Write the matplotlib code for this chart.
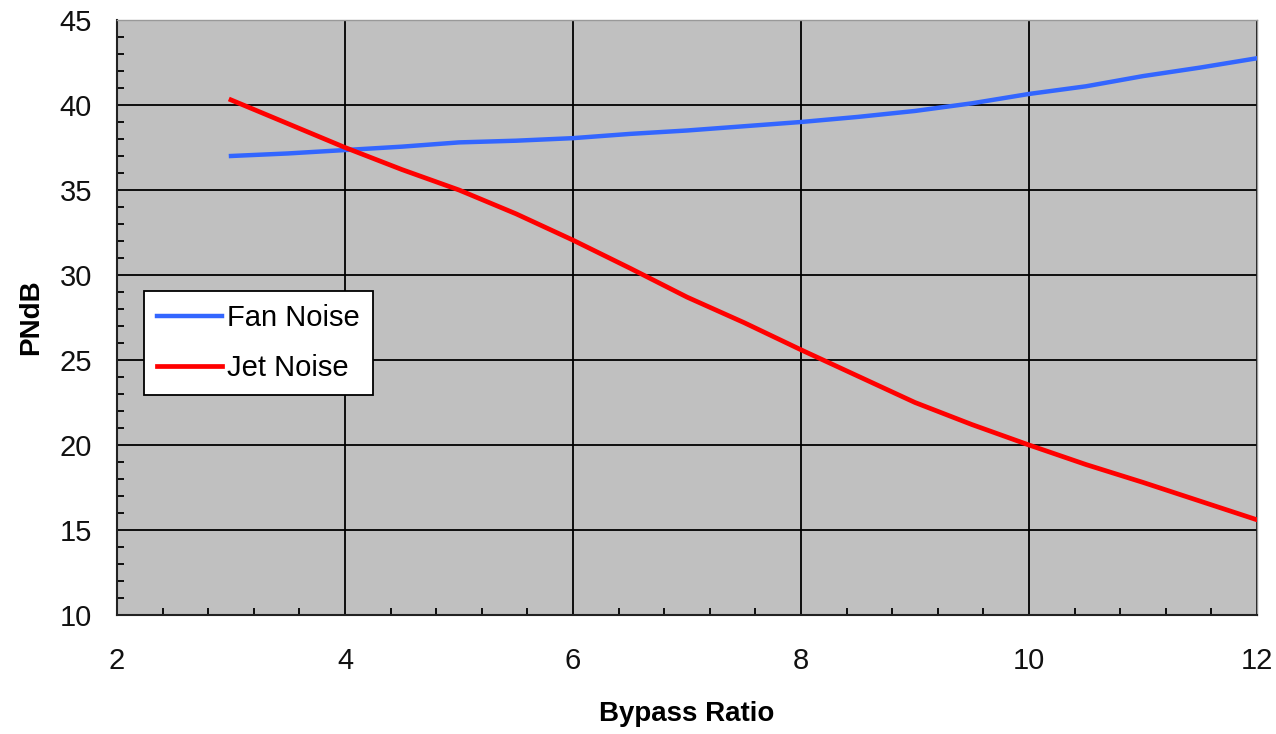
import matplotlib.pyplot as plt
from matplotlib.ticker import MultipleLocator

# Noise vs bypass ratio
bypass = [3, 3.5, 4, 4.5, 5, 5.5, 6, 6.5, 7, 7.5, 8, 8.5, 9, 9.5, 10, 10.5, 11, 11.5, 12]
fan_noise = [37.0, 37.15, 37.35, 37.55, 37.8, 37.9, 38.05, 38.3, 38.5, 38.75, 39.0, 39.3, 39.65, 40.1, 40.65, 41.1, 41.7, 42.2, 42.75]
jet_noise = [40.3, 38.9, 37.5, 36.2, 35.0, 33.6, 32.05, 30.4, 28.7, 27.2, 25.6, 24.05, 22.5, 21.2, 20.0, 18.85, 17.8, 16.7, 15.6]

font = 'Liberation Sans'

fig = plt.figure(figsize=(12.76, 7.34), dpi=100)
ax = fig.add_axes([117/1276, 1 - 615/734, 1140/1276, 595/734])
ax.set_facecolor('#c0c0c0')

ax.plot(bypass, fan_noise, color='#3366ff', linewidth=3.2, label='Fan Noise', zorder=3)
ax.plot(bypass, jet_noise, color='#ff0000', linewidth=3.4, label='Jet Noise', zorder=3)

ax.set_xlim(2, 12)
ax.set_ylim(10, 45)
ax.xaxis.set_major_locator(MultipleLocator(2))
ax.xaxis.set_minor_locator(MultipleLocator(0.4))
ax.yaxis.set_major_locator(MultipleLocator(5))
ax.yaxis.set_minor_locator(MultipleLocator(1))
ax.grid(True, which='major', color='black', linewidth=1.3)

ax.tick_params(which='both', direction='in', top=False, right=False, color='black')
ax.tick_params(which='major', length=0, labelsize=21)
ax.tick_params(which='minor', length=5, width=1.3)
ax.tick_params(axis='x', which='major', pad=23)
ax.tick_params(axis='y', which='major', pad=18)

for side in ['left', 'bottom']:
    ax.spines[side].set_color('#222222')
    ax.spines[side].set_linewidth(1.5)
for side in ['top', 'right']:
    ax.spines[side].set_color('#999999')
    ax.spines[side].set_linewidth(1.0)

for lab in ax.get_xticklabels() + ax.get_yticklabels():
    lab.set_fontname(font)
    lab.set_color('#111111')

ax.set_xlabel('Bypass Ratio', fontname=font, fontsize=20, fontweight='bold', labelpad=19)
ax.set_ylabel('PNdB', fontname=font, fontsize=20, fontweight='bold', labelpad=11)

leg = ax.legend(loc='upper left', bbox_to_anchor=(0.024, 0.545), fancybox=False,
                framealpha=1, edgecolor='black', handlelength=2.2, handletextpad=0.2,
                borderpad=0.45, labelspacing=0.75, borderaxespad=0,
                prop={'family': font, 'size': 21})
leg.get_frame().set_linewidth(1.3)

fig.savefig('out.png', dpi=100)
